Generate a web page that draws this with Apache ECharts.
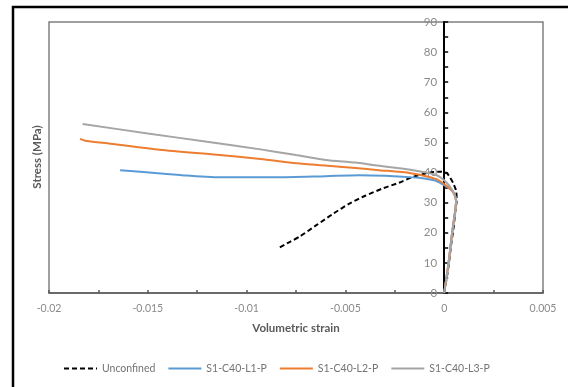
<!DOCTYPE html>
<html>
<head>
<meta charset="utf-8">
<script src="https://cdn.jsdelivr.net/npm/echarts@6/dist/echarts.min.js"></script>
<style>
  html, body { margin: 0; padding: 0; background: #fff; }
  #chart { width: 568px; height: 387px; }
</style>
</head>
<body>
<div id="chart"></div>
<script>
// Stress vs volumetric strain, [strain, stress (MPa)]
var unconfined = [
  [0, 0], [0.0002, 8], [0.00035, 16], [0.00048, 22], [0.00056, 27], [0.00063, 31],
  [0.0006, 34], [0.00046, 36.4], [0.0003, 38.3], [0.00013, 39.8], [-0.0002, 40.3],
  [-0.00055, 40.2], [-0.001, 39.6], [-0.00156, 38.6], [-0.0023, 36.6], [-0.00308, 34.8],
  [-0.004, 32.3], [-0.00477, 29.8], [-0.0056, 26.4], [-0.00645, 22.6], [-0.0073, 18.8],
  [-0.0078, 17], [-0.0084, 14.9]
];
var l1 = [
  [0, 0], [0.00022, 10], [0.0004, 20], [0.00055, 27], [0.0006, 30.5], [0.00052, 33],
  [0.0003, 34.6], [0, 35.8], [-0.0004, 37.2], [-0.001, 38], [-0.0016, 38.4], [-0.003, 38.9],
  [-0.0043, 39.1], [-0.006, 38.8], [-0.0085, 38.4], [-0.0112, 38.4], [-0.013, 39.0],
  [-0.0145, 39.8], [-0.0164, 40.8]
];
var l2 = [
  [0, 0], [0.00022, 10], [0.0004, 20], [0.00055, 27], [0.0006, 30.5], [0.00045, 33.5],
  [0.00013, 35.5], [-0.0004, 37.8], [-0.0017, 39.8], [-0.0033, 40.8], [-0.0048, 41.7],
  [-0.0073, 43.0], [-0.0093, 44.5], [-0.0115, 45.9], [-0.0144, 47.6], [-0.0169, 49.6],
  [-0.0181, 50.5], [-0.01843, 51.2]
];
var l3 = [
  [0, 0], [0.00022, 10], [0.0004, 20], [0.00055, 27], [0.0006, 30.8], [0.0004, 34.2],
  [0.0001, 36.8], [-0.0004, 39.2], [-0.0017, 40.9], [-0.0035, 42.4], [-0.0045, 43.3],
  [-0.006, 44.2], [-0.0075, 45.8], [-0.0093, 47.7], [-0.012, 50.2], [-0.015, 53.0],
  [-0.0183, 56.1]
];
var seriesNames = ['Unconfined', 'S1-C40-L1-P', 'S1-C40-L2-P', 'S1-C40-L3-P'];
var xTitle = 'Volumetric strain';
var yTitle = 'Stress (MPa)';

var FONT = 'Lato, "Liberation Sans", sans-serif';
var GRID_LEFT = 49, GRID_RIGHT = 25;
var X_MIN = -0.02, X_MAX = 0.005;
var chartWidth = 568;
// shift the stress axis so it sits on strain = 0
var zeroOffset = (chartWidth - GRID_LEFT - GRID_RIGHT) * (0 - X_MIN) / (X_MAX - X_MIN);

var chart = echarts.init(document.getElementById('chart'), null, { renderer: 'canvas' });

function lineSeries(name, data, color, type) {
  return {
    name: name,
    type: 'line',
    data: data,
    symbol: 'none',
    smooth: 0.25,
    lineStyle: { color: color, width: 2, type: type || 'solid' },
    itemStyle: { color: color }
  };
}

chart.setOption({
  animation: false,
  backgroundColor: '#fff',
  textStyle: { fontFamily: FONT },
  grid: {
    left: GRID_LEFT, right: GRID_RIGHT, top: 22, bottom: 94,
    show: true, borderColor: '#808080', borderWidth: 1.5, backgroundColor: '#fff'
  },
  xAxis: {
    type: 'value', min: X_MIN, max: X_MAX, interval: 0.005,
    name: xTitle, nameLocation: 'middle', nameGap: 29,
    nameTextStyle: { color: '#595959', fontWeight: 'bold', fontSize: 11.5, fontFamily: FONT },
    axisLine: { show: true, lineStyle: { color: '#595959', width: 1.5 } },
    axisTick: { show: true, inside: true, length: 3, lineStyle: { color: '#595959', width: 1.5 } },
    minorTick: { show: true, splitNumber: 2, length: 3, lineStyle: { color: '#595959', width: 1.5 } },
    axisLabel: { color: '#8a8a8a', fontSize: 10.5, margin: 10, fontFamily: FONT },
    splitLine: { show: false }
  },
  yAxis: {
    type: 'value', min: 0, max: 90, interval: 10,
    offset: -zeroOffset,
    axisLine: { show: true, onZero: false, lineStyle: { color: '#000', width: 2 } },
    axisTick: { show: true, inside: true, length: 4, lineStyle: { color: '#000', width: 1.5 } },
    minorTick: { show: true, splitNumber: 2, length: 4, lineStyle: { color: '#000', width: 1.5 } },
    axisLabel: { color: '#8a8a8a', fontSize: 11.5, margin: 7, fontFamily: FONT },
    splitLine: { show: false }
  },
  legend: {
    bottom: 8, left: 58,
    itemWidth: 33, itemHeight: 10, itemGap: 12,
    itemStyle: { opacity: 0 },
    textStyle: { color: '#737373', fontSize: 10.5, fontFamily: FONT },
    data: seriesNames
  },
  graphic: [
    {
      type: 'rect', silent: true, z: 100,
      shape: { x: 13, y: 7, width: 620, height: 420 },
      style: { fill: 'none', stroke: '#000', lineWidth: 2.5 }
    },
    {
      type: 'text', x: 37, y: 157, rotation: Math.PI / 2, z: 100,
      style: {
        text: yTitle, fill: '#595959', font: 'bold 11.5px ' + FONT,
        align: 'center', verticalAlign: 'middle'
      }
    }
  ],
  series: [
    lineSeries(seriesNames[0], unconfined, '#000000', [5, 3]),
    lineSeries(seriesNames[1], l1, '#5b9bd5'),
    lineSeries(seriesNames[2], l2, '#ed7d31'),
    lineSeries(seriesNames[3], l3, '#a5a5a5')
  ]
});
</script>
</body>
</html>
